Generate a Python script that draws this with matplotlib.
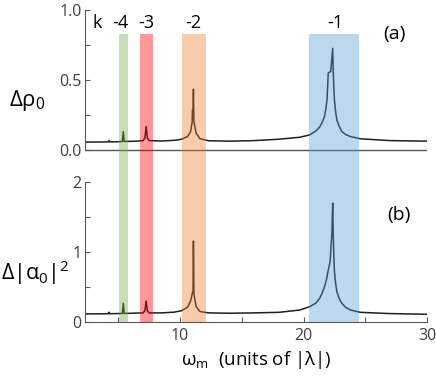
import matplotlib

matplotlib.use("Agg")
import matplotlib.pyplot as plt
from matplotlib.ticker import MultipleLocator

plt.rcParams["font.family"] = ["Open Sans", "DejaVu Sans"]

# curve samples (omega_m in units of |lambda|)
omega_top = [2.3, 3.5, 4.2, 4.25, 4.3, 5.0, 5.33, 5.4, 5.47, 6.5, 7.0, 7.15, 7.25,
             7.35, 7.5, 8.5, 9.5, 10.1, 10.6, 10.85, 10.98, 11.0, 11.05, 11.08, 11.12,
             11.3, 11.6, 12.3, 14.0, 16.0, 18.0, 19.7, 20.5, 21.0, 21.3, 21.5, 21.7,
             21.8, 21.9, 21.95, 22.0, 22.2, 22.36, 22.4, 22.45, 22.5, 22.6, 22.7, 22.9,
             23.1, 23.4, 23.8, 24.6, 27.0, 30.0]
delta_rho = [0.055, 0.056, 0.057, 0.066, 0.057, 0.058, 0.060, 0.130, 0.060, 0.062,
             0.066, 0.085, 0.166, 0.085, 0.066, 0.063, 0.068, 0.075, 0.095, 0.130,
             0.200, 0.286, 0.290, 0.434, 0.200, 0.120, 0.080, 0.065, 0.062, 0.066,
             0.076, 0.090, 0.107, 0.135, 0.162, 0.195, 0.240, 0.290, 0.357, 0.450,
             0.550, 0.560, 0.726, 0.570, 0.450, 0.357, 0.270, 0.214, 0.165, 0.131,
             0.110, 0.095, 0.079, 0.066, 0.062]

omega_bot = [2.3, 4.2, 4.25, 4.3, 5.33, 5.4, 5.47, 7.0, 7.15, 7.25, 7.35, 7.5, 8.5,
             9.5, 10.1, 10.6, 10.85, 10.98, 11.0, 11.05, 11.08, 11.12, 11.3, 11.6,
             12.3, 14.0, 16.0, 18.0, 19.7, 20.5, 21.0, 21.3, 21.5, 21.7, 21.85, 22.0,
             22.15, 22.3, 22.36, 22.4, 22.45, 22.5, 22.6, 22.7, 22.9, 23.1, 23.4, 23.8,
             24.6, 27.0, 30.0]
delta_alpha = [0.115, 0.118, 0.140, 0.118, 0.122, 0.267, 0.122, 0.130, 0.160, 0.300,
               0.160, 0.130, 0.130, 0.140, 0.160, 0.210, 0.300, 0.400, 0.420, 0.450,
               1.157, 0.400, 0.220, 0.150, 0.130, 0.125, 0.130, 0.138, 0.171, 0.219,
               0.270, 0.338, 0.410, 0.505, 0.600, 0.740, 0.860, 1.290, 1.700, 1.290,
               0.950, 0.720, 0.550, 0.430, 0.330, 0.267, 0.210, 0.171, 0.138, 0.120,
               0.110]

# shaded resonance windows
band_k = ["-4", "-3", "-2", "-1"]
band_lo = [5.09, 6.76, 10.16, 20.47]
band_hi = [5.77, 7.84, 12.10, 24.52]
band_label_x = [5.2, 7.3, 11.1, 22.6]
band_colors = ["#70AD47", "#FF0000", "#ED7D31", "#5B9BD5"]

fig = plt.figure(figsize=(4.36, 3.83), dpi=100)

left, width = 0.195, 0.7844
bot_y0, bot_h = 0.1593, 0.3655
top_y0, top_h = bot_y0 + bot_h, 0.4491
top_ymin = -0.23

# bottom axes first so the bands from the top axes are drawn over its curve
ax_b = fig.add_axes([left, bot_y0, width, bot_h])
ax_t = fig.add_axes([left, top_y0, width, top_h])
ax_t.patch.set_visible(False)

line_col = "#1e1e24"
spine_col = "#595959"
tick_col = "#404040"

ax_b.plot(omega_bot, delta_alpha, color=line_col, lw=1.1)
ax_t.plot(omega_top, delta_rho, color=line_col, lw=1.1)
ax_t.axhline(0, color="#555555", lw=1.0)

for ax in (ax_t, ax_b):
    ax.set_xlim(2.3, 30)
    for side in ("top", "right"):
        ax.spines[side].set_visible(False)
    for side in ("left", "bottom"):
        ax.spines[side].set_color(spine_col)
        ax.spines[side].set_linewidth(0.8)
    ax.tick_params(which="both", direction="in", length=3.5, width=0.8,
                   color=spine_col, labelsize=11.5, labelcolor=tick_col, pad=2.5)

ax_t.set_ylim(top_ymin, 1.0)
ax_t.spines["left"].set_bounds(0, 1.0)
ax_t.spines["bottom"].set_visible(False)
ax_t.yaxis.set_major_locator(MultipleLocator(0.5))
ax_t.yaxis.set_minor_locator(MultipleLocator(0.25))
ax_t.set_xticks([])
ax_t.set_yticks([0.0, 0.5, 1.0])

ax_b.set_ylim(0, 2)
ax_b.yaxis.set_major_locator(MultipleLocator(1))
ax_b.yaxis.set_minor_locator(MultipleLocator(0.5))
ax_b.xaxis.set_major_locator(MultipleLocator(10))
ax_b.xaxis.set_minor_locator(MultipleLocator(5))
ax_b.tick_params(axis="x", pad=4)

# bands run from the bottom axis up into the top panel
band_top = 0.83
ymin_frac = -bot_h / top_h
ymax_frac = (band_top - top_ymin) / (1.0 - top_ymin)
for lo, hi, c in zip(band_lo, band_hi, band_colors):
    ax_t.axvspan(lo, hi, ymin=ymin_frac, ymax=ymax_frac, color=c, alpha=0.4,
                 lw=0, clip_on=False, zorder=5)

ax_t.text(3.25, 0.905, "k", ha="center", va="center", fontsize=13)
for lab, xk in zip(band_k, band_label_x):
    ax_t.text(xk, 0.905, lab, ha="center", va="center", fontsize=13)

ax_t.text(27.4, 0.825, "(a)", ha="center", va="center", fontsize=14)
ax_b.text(27.7, 1.53, "(b)", ha="center", va="center", fontsize=14)

fig.text(0.02, 0.723, r"Δρ$_\mathregular{0}$", fontsize=16, ha="left", va="baseline")
fig.text(0.003, 0.27, r"Δ|α$_\mathregular{0}$|$^\mathregular{2}$", fontsize=15.5,
         ha="left", va="baseline")
fig.text(0.587, 0.047, r"ω$_\mathregular{m}$  (units of |λ|)", fontsize=13.5,
         ha="center", va="baseline")

fig.savefig("out.png", dpi=100)
